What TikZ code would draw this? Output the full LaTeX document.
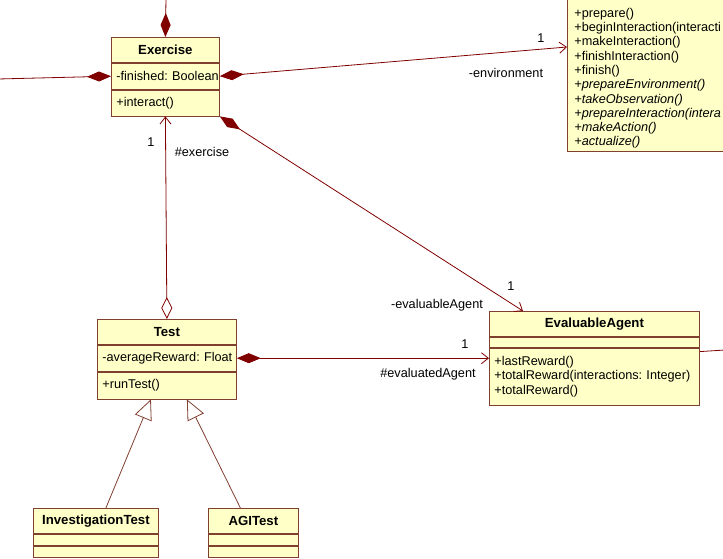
\documentclass[tikz,border=0pt]{standalone}
\usepackage{fontspec}
\setmainfont{Liberation Sans}
\usepackage{xcolor}
\usepackage{tikz}
\usetikzlibrary{arrows.meta, positioning}
\definecolor{umlfill}{RGB}{255,255,200}
\definecolor{umlborder}{RGB}{128,64,48}
\definecolor{umlred}{RGB}{128,0,0}
\frenchspacing

\begin{document}
\begin{tikzpicture}[x=1pt, y=-1pt,
    font=\fontsize{12.7}{14.3}\selectfont,
    umlbox/.style={draw=umlborder, fill=umlfill, line width=0.8pt},
    umlhead/.style={umlbox, minimum height=25pt, inner xsep=5pt, align=center, font=\fontsize{13.2}{14.3}\selectfont\bfseries},
    umlpart/.style={umlbox, inner xsep=5pt, inner ysep=2pt, align=left},
    assoc/.style={draw=umlred, line width=0.8pt},
    umlcomp/.tip={Diamond[length=24pt, width=10pt]},
    umlagg/.tip={Diamond[length=22pt, width=11pt, fill=white]},
    umlnav/.tip={Straight Barb[length=7pt, width=11pt]},
    umlgen/.tip={Triangle[length=20pt, width=18pt, fill=white]}]
  \useasboundingbox[fill=white] (0,0) rectangle (723,559);
  \clip (0,0) rectangle (723,559);

  \node[umlhead, anchor=north west, text width=98pt] (exercise) at (111,37) {Exercise};
  \node[umlpart, below=0pt of exercise, text width=98pt, minimum height=26pt] (exercise-attr) {\mbox{-finished: Boolean}};
  \node[umlpart, below=0pt of exercise-attr, text width=98pt, minimum height=26pt] (exercise-op) {+interact()};

  \node[umlbox, anchor=south west, text width=200pt, align=left, inner xsep=7pt, inner ysep=3pt] (env) at (567,152)
    {\rule{0pt}{24pt}+prepare()\\+beginInteraction(interacti\\+makeInteraction()\\+finishInteraction()\\+finish()\\
     \textit{+prepareEnvironment()}\\\textit{+takeObservation()}\\\textit{+prepareInteraction(intera}\\
     \textit{+makeAction()}\\\textit{+actualize()}};

  \node[umlhead, anchor=north west, text width=129pt] (test) at (97,319) {Test};
  \node[umlpart, below=0pt of test, text width=129pt, minimum height=26pt] (test-attr) {\mbox{-averageReward: Float}};
  \node[umlpart, below=0pt of test-attr, text width=129pt, minimum height=27pt] (test-op) {+runTest()};

  \node[umlhead, anchor=north west, text width=200pt] (agent) at (489,311) {EvaluableAgent};
  \node[umlpart, below=0pt of agent, text width=200pt, minimum height=10pt] (agent-attr) {};
  \node[umlpart, below=0pt of agent-attr, text width=200pt, minimum height=57pt] (agent-op)
    {+lastReward()\\\mbox{+totalReward(interactions: Integer)}\\+totalReward()};

  \node[umlhead, anchor=north west, text width=115pt] (invtest) at (33,508) {InvestigationTest};
  \node[umlpart, below=0pt of invtest, text width=115pt, minimum height=11pt] (invtest-attr) {};
  \node[umlpart, below=0pt of invtest-attr, text width=115pt, minimum height=11pt] (invtest-op) {};

  \node[umlhead, anchor=north west, text width=80pt] (agitest) at (208,508) {AGITest};
  \node[umlpart, below=0pt of agitest, text width=80pt, minimum height=11pt] (agitest-attr) {};
  \node[umlpart, below=0pt of agitest-attr, text width=80pt, minimum height=11pt] (agitest-op) {};

  \coordinate (topend) at (166,-2);
  \coordinate (leftend) at (-2,79);
  \coordinate (rightend) at (725,350);

  \draw[assoc, umlcomp-] (exercise.north) -- (topend);
  \draw[assoc, umlcomp-] (exercise-attr.west) -- (leftend);
  \draw[assoc, umlcomp-umlnav] (exercise-attr.east) -- ([yshift=105pt]env.south west);
  \draw[assoc, umlcomp-umlnav] (exercise-op.south east) -- ([xshift=34pt]agent.north west);
  \draw[assoc, umlnav-umlagg] (exercise-op.south) -- (test.north);
  \draw[assoc, umlcomp-umlnav] (test-attr.east) -- (test-attr.east -| agent-op.west);
  \draw[assoc] ([yshift=-4pt]agent-op.north east) -- (rightend);
  \draw[assoc, draw=umlborder, -umlgen] ([xshift=10pt]invtest.north) -- ([xshift=-16pt]test-op.south);
  \draw[assoc, draw=umlborder, -umlgen] ([xshift=-13pt]agitest.north) -- ([xshift=20pt]test-op.south);

  \node (exercise-mult) at (151,142) {1};
  \node (exercise-role) at (202,152) {\#exercise};
  \node (env-mult) at (541,38) {1};
  \node (env-role) at (506,73) {-environment};
  \node (agent-mult) at (511,286) {1};
  \node (agent-role) at (437,305) {-evaluableAgent};
  \node (evaluated-mult) at (465,344) {1};
  \node (evaluated-role) at (428,374) {\#evaluatedAgent};
\end{tikzpicture}
\end{document}
